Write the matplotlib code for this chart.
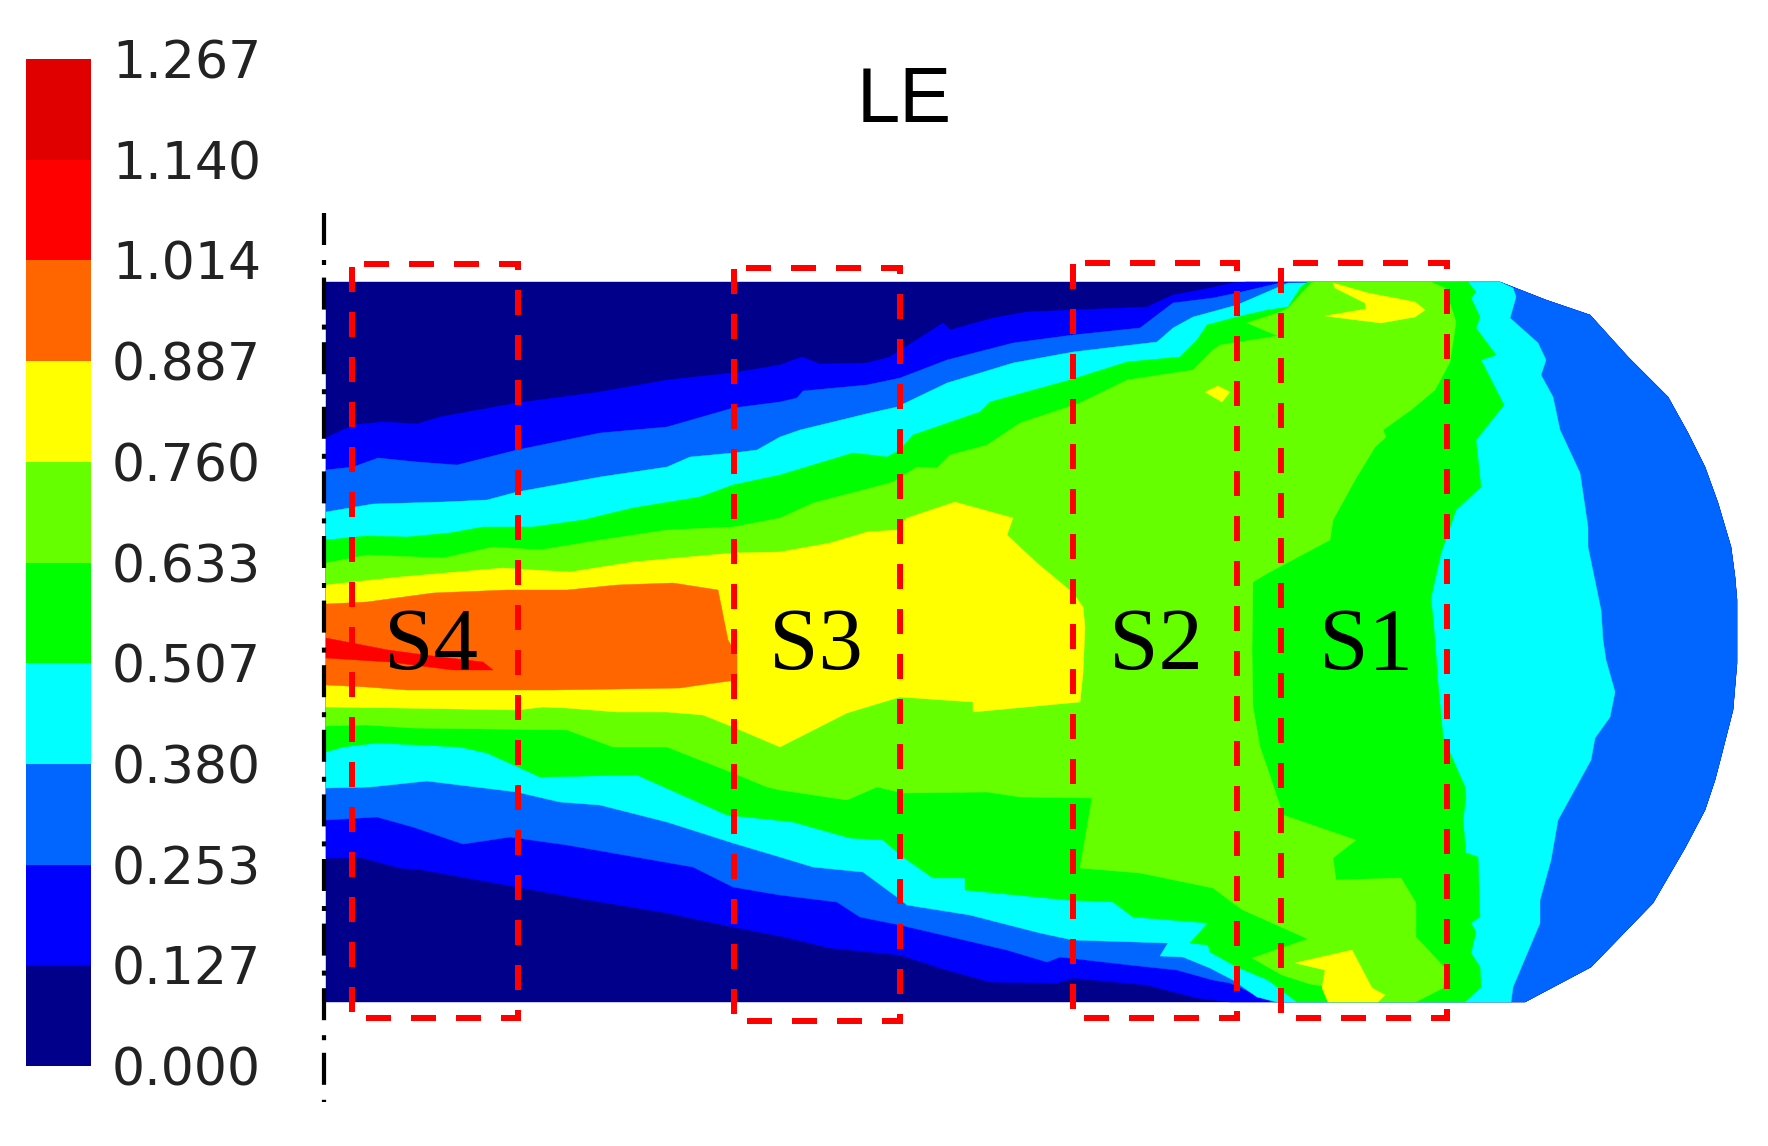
"""Contour plot of LE over a plate section with four dashed sampling boxes."""
import numpy as np
import matplotlib
matplotlib.use("Agg")
import matplotlib.pyplot as plt
from matplotlib.colors import ListedColormap, BoundaryNorm
from matplotlib.patches import Polygon

W, H, DPI = 1768, 1146, 100
PT = 72 / DPI  # one image pixel in points

# ---- colour scale ----
TICK_LABELS = ["0.000", "0.127", "0.253", "0.380", "0.507", "0.633",
               "0.760", "0.887", "1.014", "1.140", "1.267"]
LEVELS = [float(t) for t in TICK_LABELS]
COLORS = ["#00008b", "#0000ff", "#0066ff", "#00ffff", "#00ff00", "#66ff00",
          "#ffff00", "#ff6600", "#ff0000", "#e00000"]

# ---- contour boundaries, in image pixels ----
LEFT, TOP, BOTTOM = 326, 282, 1002

OUTER = [(1500, 282), (1546, 300), (1590, 315), (1628, 357), (1668, 397), (1688, 433),
         (1705, 467), (1718, 503), (1731, 547), (1735, 577), (1737, 600), (1737, 663),
         (1733, 710), (1721, 757), (1715, 780), (1705, 810), (1685, 848), (1653, 903),
         (1591, 967), (1525, 1002)]
CAP = [(1500, 282), (1513, 288), (1516, 297), (1510, 318), (1538, 343), (1546, 360),
       (1541, 375), (1553, 397), (1560, 430), (1580, 473), (1588, 527), (1588, 547),
       (1601, 610), (1603, 640), (1606, 660), (1615, 692), (1610, 717), (1595, 738),
       (1591, 760), (1558, 820), (1551, 860), (1540, 900), (1540, 923), (1513, 987),
       (1511, 1002)]

TOP_NAVY = [(326, 438), (353, 425), (383, 422), (417, 424), (440, 417), (517, 403),
            (600, 392), (667, 380), (733, 373), (780, 365), (802, 357), (820, 364),
            (867, 363), (890, 357), (943, 323), (950, 330), (993, 318), (1027, 312),
            (1073, 310), (1147, 307), (1173, 295), (1200, 290), (1233, 283), (1247, 282)]
BOT_NAVY = [(326, 858), (363, 858), (400, 868), (423, 870), (517, 887), (577, 898),
            (667, 913), (733, 927), (780, 936), (830, 948), (900, 955), (940, 968),
            (990, 982), (1057, 983), (1073, 978), (1147, 985), (1197, 998), (1230, 1002)]

TOP_BLUE = [(326, 470), (353, 467), (378, 458), (417, 462), (457, 465), (517, 450),
            (600, 433), (667, 427), (733, 408), (780, 402), (797, 398), (803, 391),
            (867, 385), (900, 378), (947, 360), (1013, 343), (1073, 335), (1140, 328),
            (1173, 303), (1213, 298), (1237, 293), (1280, 283)]
BOT_BLUE = [(326, 820), (377, 817), (413, 827), (463, 844), (510, 837), (567, 845),
            (693, 867), (733, 887), (780, 895), (837, 902), (860, 917), (900, 925),
            (1007, 950), (1047, 962), (1060, 957), (1130, 965), (1177, 970), (1213, 980),
            (1230, 983), (1273, 1002)]

TOP_MID = [(326, 512), (373, 504), (443, 502), (487, 500), (517, 492), (600, 477),
           (667, 467), (690, 457), (733, 453), (757, 450), (780, 437), (800, 430),
           (870, 413), (897, 407), (947, 383), (1013, 363), (1073, 352), (1157, 342),
           (1173, 328), (1193, 317), (1237, 305), (1288, 283)]
BOT_MID = [(326, 788), (370, 787), (427, 781), (517, 792), (560, 802), (600, 805),
           (667, 822), (733, 843), (780, 857), (813, 867), (863, 872), (897, 897),
           (907, 905), (970, 915), (1040, 933), (1073, 940), (1168, 943), (1160, 956),
           (1183, 957), (1210, 968), (1233, 980), (1257, 997), (1277, 1002)]

TOP_CYAN = [(326, 540), (367, 536), (407, 537), (450, 533), (483, 527), (533, 527),
            (583, 520), (633, 508), (700, 497), (733, 485), (780, 475), (853, 453),
            (887, 457), (900, 450), (913, 435), (980, 412), (990, 402), (1070, 380),
            (1127, 362), (1180, 357), (1197, 340), (1207, 325), (1237, 317), (1268, 310),
            (1288, 307), (1301, 287), (1308, 282)]
RIGHT_CYAN = [(1468, 282), (1476, 292), (1471, 298), (1480, 317), (1476, 328), (1496, 355),
              (1481, 360), (1504, 405), (1476, 440), (1481, 487), (1456, 510), (1441, 553),
              (1431, 598), (1435, 640), (1438, 683), (1443, 737), (1465, 787), (1466, 797),
              (1463, 820), (1466, 853), (1478, 857), (1480, 917), (1471, 923), (1476, 932),
              (1471, 953), (1480, 967), (1481, 987), (1465, 1002)]
BOT_CYAN = [(326, 752), (343, 747), (377, 743), (460, 747), (487, 753), (540, 777),
            (637, 775), (727, 815), (793, 822), (850, 838), (883, 840), (903, 857),
            (933, 878), (965, 878), (965, 890), (1067, 900), (1113, 902), (1133, 917),
            (1208, 923), (1190, 943), (1208, 945), (1210, 952), (1237, 967), (1268, 980),
            (1281, 990), (1297, 1002)]

TOP_GREEN = [(326, 563), (367, 555), (417, 557), (443, 558), (493, 547), (540, 550),
             (600, 540), (667, 530), (733, 527), (780, 518), (813, 503), (863, 490),
             (893, 482), (917, 467), (937, 468), (950, 455), (987, 445), (1020, 423),
             (1080, 403), (1127, 380), (1193, 370), (1213, 350), (1220, 345), (1278, 336),
             (1247, 323), (1280, 312), (1288, 308), (1311, 283), (1315, 282)]
RIGHT_GREEN = [(1431, 282), (1445, 288), (1456, 322), (1450, 362), (1435, 390), (1411, 410),
               (1383, 430), (1386, 437), (1375, 447), (1355, 480), (1333, 520), (1330, 540),
               (1268, 573), (1253, 582), (1252, 650), (1253, 707), (1260, 747), (1268, 770),
               (1283, 815), (1356, 840), (1333, 858), (1336, 880), (1401, 878), (1416, 903),
               (1416, 937), (1445, 968), (1443, 988), (1416, 1002), (1330, 1002), (1322, 986),
               (1310, 984), (1282, 975), (1252, 958), (1308, 939), (1243, 910)]
BOT_GREEN = [(326, 726), (367, 725), (413, 728), (567, 730), (613, 747), (667, 747),
             (733, 773), (767, 787), (780, 790), (847, 800), (877, 787), (903, 793),
             (987, 792), (1020, 797), (1092, 798), (1080, 868), (1140, 873), (1213, 888),
             (1233, 903)]

YELLOW = [(326, 585), (400, 577), (503, 568), (533, 570), (570, 572), (633, 562), (733, 553),
          (780, 552), (830, 543), (867, 532), (897, 530), (907, 518), (955, 502), (1013, 518),
          (1007, 535), (1037, 563), (1073, 593), (1083, 607), (1085, 627), (1083, 673),
          (1080, 702), (973, 712), (973, 702), (900, 697), (847, 713), (780, 747), (733, 727),
          (703, 715), (667, 712), (617, 712), (567, 708), (543, 707), (517, 710), (400, 708),
          (326, 707)]
ISLAND_TOP = [(1333, 283), (1368, 293), (1415, 302), (1425, 310), (1415, 317), (1381, 323),
              (1325, 316), (1366, 309), (1365, 303), (1335, 288)]
ISLAND_MID = [(1205, 392), (1218, 386), (1230, 392), (1222, 402)]
ISLAND_BOT = [(1295, 963), (1352, 950), (1372, 988), (1385, 995), (1378, 1002), (1328, 1002),
              (1322, 988), (1325, 970)]

ORANGE = [(326, 604), (367, 602), (433, 593), (507, 590), (567, 590), (617, 585), (673, 583),
          (718, 590), (728, 640), (737, 655), (737, 680), (700, 685), (680, 688), (553, 690),
          (407, 690), (367, 687), (326, 685)]
RED = [(326, 638), (388, 650), (440, 657), (483, 662), (493, 670), (453, 670), (390, 662),
       (326, 658)]

# dashed boxes: name, left, right, top, bottom
BOX_NAMES = ["S4", "S3", "S2", "S1"]
BOX_LEFT = [352, 734, 1073, 1281]
BOX_RIGHT = [518, 900, 1237, 1447]
BOX_TOP = [264, 268, 263, 263]
BOX_BOTTOM = [1018, 1021, 1018, 1018]
NAME_X = [431, 816, 1156, 1366]
NAME_BASE = 669


def fill(ax, pts, color, z):
    ax.add_patch(Polygon(pts, closed=True, fc=color, ec=color, lw=0.3, zorder=z))


def main():
    plt.rcParams["lines.scale_dashes"] = False
    fig = plt.figure(figsize=(W / DPI, H / DPI), dpi=DPI, facecolor="white")
    ax = fig.add_axes([0, 0, 1, 1])
    ax.set_xlim(0, W); ax.set_ylim(H, 0); ax.axis("off")

    # nested bands, low value first, each one painted over the last
    fill(ax, [(LEFT, TOP)] + OUTER + [(LEFT, BOTTOM)], COLORS[0], 1)
    fill(ax, TOP_NAVY + OUTER + BOT_NAVY[::-1], COLORS[1], 2)
    fill(ax, TOP_BLUE + OUTER + BOT_BLUE[::-1], COLORS[2], 3)
    fill(ax, TOP_MID + CAP + BOT_MID[::-1], COLORS[3], 4)
    fill(ax, TOP_CYAN + RIGHT_CYAN + BOT_CYAN[::-1], COLORS[4], 5)
    fill(ax, TOP_GREEN + RIGHT_GREEN + BOT_GREEN[::-1], COLORS[5], 6)
    for pts in (YELLOW, ISLAND_TOP, ISLAND_MID, ISLAND_BOT):
        fill(ax, pts, COLORS[6], 7)
    fill(ax, ORANGE, COLORS[7], 8)
    fill(ax, RED, COLORS[8], 9)

    # symmetry axis
    ax.plot([324, 324], [213, 1102], color="black", lw=4.2 * PT, zorder=10,
            ls=(0, (32 * PT, 15 * PT, 5 * PT, 12.6 * PT)), dash_capstyle="butt")

    # sampling boxes
    for name, l, r, t, b, nx in zip(BOX_NAMES, BOX_LEFT, BOX_RIGHT, BOX_TOP, BOX_BOTTOM, NAME_X):
        ax.plot([l + 12, r, r, l, l], [t, t, b, b, t], color="#ff0000", lw=6 * PT, zorder=11,
                ls=(0, (25 * PT, 20 * PT)), dash_capstyle="butt", dash_joinstyle="miter")
        ax.text(nx, NAME_BASE, name, family="Liberation Serif", fontsize=64, color="black",
                ha="center", va="baseline", zorder=12)

    ax.text(904, 94, "LE", family="Liberation Sans", fontsize=56, color="black",
            ha="center", va="center_baseline", zorder=12)

    # colour bar, its ticks carry the level values
    cax = fig.add_axes([26 / W, 1 - 1066 / H, 65 / W, (1066 - 59) / H])
    cmap = ListedColormap(COLORS)
    norm = BoundaryNorm(LEVELS, cmap.N)
    mids = np.array([(a + b) / 2 for a, b in zip(LEVELS[:-1], LEVELS[1:])])
    cax.pcolormesh([0, 1], LEVELS, mids[:, None], cmap=cmap, norm=norm)
    cax.set_xticks([])
    cax.yaxis.tick_right()
    cax.set_yticks(LEVELS, TICK_LABELS)
    cax.tick_params(axis="y", length=0, pad=15, labelsize=37.5, labelcolor="#222222")
    for s in cax.spines.values():
        s.set_visible(False)

    fig.savefig("out.png", dpi=DPI, facecolor="white")
    plt.close(fig)


main()
